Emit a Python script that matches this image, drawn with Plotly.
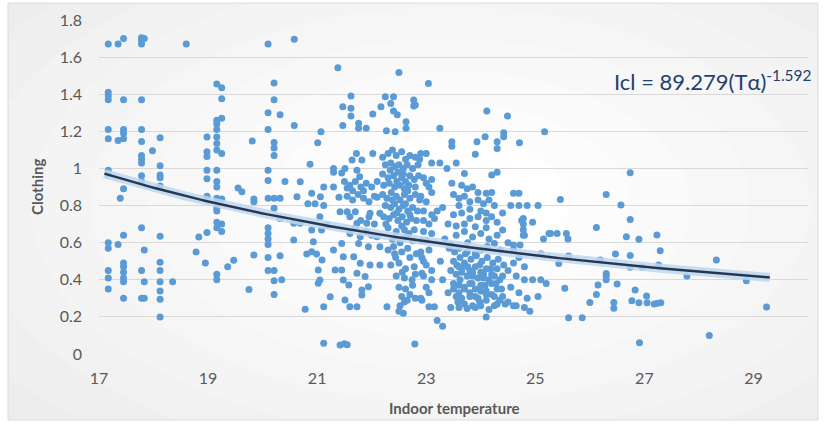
import plotly.graph_objects as go
import numpy as np

# ---------------- data ----------------
# (indoor temperature, clothing) pairs, grouped by temperature band
cold_points = [
    (17.17, 1.67), (17.17, 1.41), (17.17, 1.39), (17.17, 1.37), (17.17, 1.21), (17.17, 1.16),
    (17.17, 0.99), (17.17, 0.97), (17.17, 0.60), (17.17, 0.57), (17.17, 0.45), (17.17, 0.41),
    (17.17, 0.35), (17.35, 1.67), (17.35, 1.15), (17.35, 0.59), (17.39, 0.84),
    (17.45, 1.70), (17.45, 1.37), (17.45, 1.21), (17.45, 1.19), (17.45, 1.16), (17.45, 0.89),
    (17.45, 0.64), (17.45, 0.49), (17.45, 0.47), (17.45, 0.44), (17.45, 0.41), (17.45, 0.39),
    (17.45, 0.30), (17.78, 1.705), (17.78, 1.69), (17.78, 1.67), (17.78, 1.37), (17.78, 1.21),
    (17.78, 1.145), (17.78, 1.07), (17.78, 1.05), (17.78, 1.03), (17.78, 0.96), (17.78, 0.93),
    (17.78, 0.68), (17.78, 0.45), (17.78, 0.30), (17.83, 1.70), (17.83, 0.56), (17.83, 0.39),
    (17.83, 0.30), (17.98, 1.095), (18.12, 1.165), (18.12, 1.015), (18.12, 0.965), (18.12, 0.95),
    (18.12, 0.905), (18.12, 0.635), (18.12, 0.495), (18.12, 0.45), (18.12, 0.39), (18.12, 0.34),
    (18.12, 0.295), (18.12, 0.20), (18.35, 0.39), (18.6, 1.67),
]
cool_points = [
    (18.78, 0.55), (18.83, 0.63), (18.95, 0.49), (18.98, 1.17), (18.98, 1.09), (18.98, 1.065),
    (18.98, 0.99), (18.98, 0.945), (18.98, 0.85), (18.98, 0.655), (19.16, 1.455), (19.16, 1.26),
    (19.16, 1.24), (19.16, 1.21), (19.16, 1.17), (19.16, 1.135), (19.16, 1.10), (19.16, 0.99),
    (19.16, 0.93), (19.16, 0.90), (19.16, 0.84), (19.16, 0.785), (19.16, 0.77), (19.16, 0.71),
    (19.16, 0.68), (19.16, 0.43), (19.16, 0.40), (19.25, 1.435), (19.25, 1.375), (19.25, 1.27),
    (19.25, 1.08), (19.25, 0.835), (19.25, 0.70), (19.25, 0.66), (19.36, 0.47), (19.47, 0.505),
    (19.55, 0.895), (19.62, 0.875), (19.75, 0.347), (19.81, 1.148), (19.84, 0.835), (19.84, 0.82),
    (19.84, 0.533), (20.1, 1.67), (20.1, 1.30), (20.1, 1.21), (20.1, 0.99), (20.1, 0.935),
    (20.1, 0.84), (20.1, 0.68), (20.1, 0.65), (20.1, 0.62), (20.1, 0.59), (20.1, 0.52), (20.1, 0.45),
    (20.21, 1.46), (20.21, 1.37), (20.21, 1.14), (20.21, 1.11), (20.21, 1.07), (20.21, 0.84),
    (20.21, 0.785), (20.21, 0.45), (20.21, 0.395), (20.21, 0.32), (20.32, 1.29), (20.32, 0.84),
    (20.32, 0.73), (20.32, 0.53), (20.35, 0.40), (20.41, 0.93),
]
mild_points = [
    (20.58, 1.696), (20.58, 1.232), (20.87, 1.022), (21.01, 1.138), (21.07, 1.198), (21.38, 1.543),
    (21.47, 1.333), (21.47, 1.232), (21.62, 1.39), (21.62, 1.324), (21.62, 1.282), (21.76, 1.243),
    (21.76, 1.216), (21.9, 1.216), (22.02, 1.293), (22.02, 1.08), (22.17, 1.333), (21.72, 1.081),
    (21.64, 1.045), (21.82, 1.045), (21.3, 1.0), (21.51, 1.0), (21.73, 0.99), (21.3, 0.98),
    (21.45, 0.975), (21.78, 0.955), (20.69, 0.928), (21.12, 0.90), (21.3, 0.90), (21.55, 0.895),
    (21.65, 0.88), (21.85, 0.88), (20.9, 0.866), (20.63, 0.848), (21.06, 0.848), (21.4, 0.845),
    (22.1, 0.845), (20.83, 0.81), (20.96, 0.81), (21.12, 0.80), (21.5, 0.93), (21.6, 0.91),
    (21.7, 0.93), (21.8, 0.90), (21.9, 0.92), (22.0, 0.90), (22.1, 0.93), (21.55, 0.85),
    (21.65, 0.83), (21.75, 0.86), (21.85, 0.84), (21.95, 0.82), (22.05, 0.85), (21.6, 0.74),
    (21.8, 0.72), (21.95, 0.74), (22.05, 0.70), (21.7, 0.68), (21.9, 0.66), (22.0, 0.64),
    (21.42, 0.767), (21.55, 0.767), (21.7, 0.767), (21.97, 0.758), (22.15, 0.758), (21.05, 0.74),
    (20.57, 0.704), (20.69, 0.704), (21.73, 0.704), (21.91, 0.704), (21.18, 0.695), (20.9, 0.668),
    (21.08, 0.668), (21.6, 0.65), (21.79, 0.632), (22.1, 0.632), (20.57, 0.614), (20.93, 0.605),
    (21.45, 0.596), (21.76, 0.596), (21.94, 0.578), (22.15, 0.578), (21.3, 0.56), (20.9, 0.551),
    (20.81, 0.539), (20.99, 0.539), (21.48, 0.524), (21.67, 0.524), (21.09, 0.506), (21.79, 0.489),
    (21.97, 0.48), (22.15, 0.48), (21.02, 0.453), (21.33, 0.453), (21.45, 0.453), (21.73, 0.435),
    (21.88, 0.417), (21.05, 0.399), (21.48, 0.399), (21.02, 0.381), (21.58, 0.372), (21.94, 0.363),
    (21.82, 0.345), (21.24, 0.309), (21.51, 0.291), (21.82, 0.318), (21.12, 0.255), (21.6, 0.255),
    (21.73, 0.255), (20.78, 0.241), (21.12, 0.058), (21.42, 0.048), (21.5, 0.055), (21.55, 0.05),
]
core_points = [
    (22.25, 1.386), (22.4, 1.386), (22.35, 1.35), (22.4, 1.31), (22.47, 1.29), (22.5, 1.517),
    (22.27, 1.203), (22.43, 1.198), (22.63, 1.251), (22.63, 1.216), (22.77, 1.369), (22.77, 1.336),
    (22.8, 1.342), (22.2, 1.06), (22.3, 1.08), (22.38, 1.10), (22.45, 1.07), (22.55, 1.09),
    (22.62, 1.05), (22.7, 1.07), (22.8, 1.06), (22.25, 1.02), (22.35, 1.03), (22.42, 1.01),
    (22.5, 1.02), (22.58, 1.0), (22.65, 1.02), (22.75, 1.0), (22.85, 1.02), (22.2, 0.97),
    (22.3, 0.95), (22.4, 0.96), (22.48, 0.98), (22.55, 0.95), (22.62, 0.93), (22.7, 0.96),
    (22.78, 0.94), (22.86, 0.96), (22.22, 0.91), (22.32, 0.92), (22.42, 0.90), (22.52, 0.91),
    (22.6, 0.89), (22.68, 0.91), (22.8, 0.90), (22.2, 0.86), (22.28, 0.84), (22.36, 0.87),
    (22.45, 0.85), (22.52, 0.83), (22.6, 0.86), (22.7, 0.84), (22.8, 0.86), (22.88, 0.83),
    (22.25, 0.80), (22.35, 0.79), (22.42, 0.81), (22.5, 0.78), (22.58, 0.80), (22.66, 0.77),
    (22.75, 0.79), (22.84, 0.77), (22.22, 0.74), (22.32, 0.73), (22.4, 0.75), (22.48, 0.72),
    (22.56, 0.74), (22.64, 0.71), (22.72, 0.73), (22.82, 0.72), (22.3, 0.68), (22.45, 0.66),
    (22.55, 0.69), (22.68, 0.65), (22.78, 0.67), (22.38, 0.62), (22.52, 0.60), (22.62, 0.63),
    (22.75, 0.61), (22.3, 0.56), (22.42, 0.54), (22.55, 0.55), (22.7, 0.52), (22.82, 0.54),
    (22.35, 0.48), (22.5, 0.49), (22.62, 0.46), (22.78, 0.47), (22.45, 0.42), (22.6, 0.41),
    (22.8, 0.43), (22.5, 0.36), (22.62, 0.35), (22.75, 0.37), (22.55, 0.31), (22.6, 0.28),
    (22.52, 0.26), (22.5, 0.23), (22.65, 0.29), (22.8, 0.30), (22.58, 0.22), (22.28, 0.255),
    (22.79, 0.054),
    (22.34, 0.99), (22.46, 0.93), (22.58, 0.97), (22.66, 0.88), (22.38, 0.83), (22.62, 0.81),
    (22.46, 0.76), (22.7, 0.75), (22.26, 0.70), (22.6, 0.67), (22.4, 0.58), (22.66, 0.57),
    (22.74, 0.40), (22.56, 0.44), (22.7, 0.32), (22.44, 0.52),
]
warm_points = [
    (23.04, 1.458), (23.25, 1.216), (23.47, 1.144), (23.47, 1.12), (23.93, 1.144), (23.9, 1.076),
    (24.08, 1.171), (24.11, 1.309), (24.3, 1.144), (24.3, 1.108), (24.42, 1.193), (24.42, 1.171),
    (24.49, 1.282), (24.71, 1.138), (25.17, 1.198), (22.9, 1.08), (23.0, 1.08), (22.88, 1.05),
    (23.1, 1.03), (23.25, 1.03), (23.55, 1.03), (23.38, 1.0), (23.7, 0.973), (24.2, 0.964),
    (24.3, 0.98), (22.95, 0.95), (23.0, 0.92), (23.05, 0.90), (23.1, 0.94), (23.47, 0.92),
    (23.65, 0.91), (23.75, 0.89), (23.85, 0.90), (23.95, 0.87), (24.1, 0.866), (24.2, 0.87),
    (24.6, 0.866), (24.7, 0.866), (24.55, 0.80), (24.7, 0.80), (24.85, 0.80), (25.05, 0.80),
    (23.3, 0.79), (23.6, 0.80), (22.95, 0.77), (23.1, 0.75), (23.2, 0.77), (23.8, 0.78),
    (24.0, 0.77), (24.1, 0.76), (24.4, 0.76), (24.75, 0.72), (24.95, 0.71), (23.4, 0.70),
    (23.55, 0.69), (23.7, 0.70), (23.9, 0.686), (24.1, 0.68), (24.4, 0.668), (22.95, 0.66),
    (23.1, 0.65), (25.25, 0.65), (24.8, 0.64), (25.15, 0.62), (22.92, 0.61), (23.0, 0.61),
    (24.25, 0.596), (24.6, 0.587), (24.72, 0.587), (23.45, 0.59), (23.6, 0.57), (23.75, 0.55),
    (23.9, 0.54), (24.0, 0.56), (23.05, 0.56), (25.1, 0.54), (22.92, 0.52), (22.95, 0.50),
    (23.5, 0.50), (23.6, 0.47), (23.7, 0.49), (23.8, 0.45), (23.9, 0.47), (24.0, 0.44),
    (24.1, 0.46), (24.2, 0.43), (24.3, 0.46), (24.4, 0.42), (23.65, 0.44), (23.85, 0.42),
    (24.05, 0.41), (24.6, 0.49), (24.8, 0.47), (23.1, 0.45), (22.92, 0.435), (23.3, 0.40),
    (23.5, 0.38), (23.6, 0.37), (23.8, 0.38), (23.9, 0.35), (24.0, 0.37), (24.2, 0.38),
    (24.3, 0.35), (23.7, 0.35), (24.1, 0.34), (24.95, 0.40), (25.1, 0.40), (25.2, 0.38),
    (23.0, 0.36), (23.4, 0.33), (23.55, 0.31), (23.65, 0.30), (23.8, 0.31), (23.95, 0.30),
    (24.1, 0.32), (24.25, 0.31), (24.35, 0.29), (25.05, 0.31), (22.92, 0.29), (23.05, 0.255),
    (23.15, 0.255), (23.45, 0.25), (23.6, 0.25), (23.75, 0.245), (23.9, 0.25), (24.45, 0.27),
    (24.6, 0.26), (24.9, 0.23), (24.1, 0.20), (23.2, 0.18), (23.3, 0.15),
    (23.42, 0.57), (23.52, 0.55), (23.62, 0.52), (23.72, 0.54), (23.82, 0.51), (23.92, 0.53),
    (24.02, 0.50), (24.12, 0.52), (24.22, 0.49), (24.32, 0.51), (24.42, 0.48), (23.45, 0.45),
    (23.55, 0.43), (23.65, 0.46), (23.75, 0.42), (23.85, 0.44), (23.95, 0.41), (24.05, 0.43),
    (24.15, 0.40), (24.25, 0.42), (24.35, 0.40), (23.5, 0.35), (23.6, 0.33), (23.7, 0.36),
    (23.8, 0.33), (23.9, 0.31), (24.0, 0.34), (24.1, 0.29), (24.2, 0.32), (24.3, 0.27),
    (24.4, 0.31), (23.7, 0.27), (23.85, 0.26), (24.0, 0.26), (24.15, 0.24), (24.25, 0.26),
    (22.9, 0.85), (23.0, 0.82), (23.1, 0.87), (22.95, 0.72), (23.05, 0.70), (23.15, 0.73),
    (22.9, 0.55), (23.0, 0.48), (23.1, 0.40), (22.95, 0.42), (23.05, 0.33), (22.9, 0.30),
    (23.5, 0.86), (23.6, 0.84), (23.7, 0.85), (23.8, 0.82), (23.95, 0.83), (24.05, 0.81),
    (24.15, 0.83), (24.25, 0.80), (23.5, 0.75), (23.65, 0.76), (23.8, 0.73), (23.95, 0.74),
    (24.1, 0.72), (24.2, 0.74), (24.3, 0.71), (23.55, 0.64), (23.7, 0.66), (23.85, 0.63),
    (24.0, 0.65), (24.15, 0.62), (24.3, 0.64), (24.5, 0.60), (24.6, 0.56), (24.7, 0.52),
    (24.5, 0.45), (24.65, 0.42), (24.8, 0.40), (24.55, 0.36), (24.7, 0.33), (24.85, 0.30),
    (24.5, 0.28), (24.65, 0.26), (24.8, 0.25), (24.78, 0.73), (24.78, 0.70), (24.78, 0.67),
    (24.78, 0.64),
    (23.56, 0.48), (23.76, 0.47), (23.98, 0.48), (24.18, 0.46), (23.62, 0.40), (23.84, 0.38),
    (24.08, 0.37), (24.28, 0.38), (23.58, 0.28), (23.98, 0.28), (24.38, 0.35), (23.76, 0.60),
    (24.12, 0.58), (24.36, 0.56), (23.34, 0.62), (23.26, 0.50),
]
hot_points = [
    (25.28, 0.65), (25.4, 0.65), (25.57, 0.65), (25.6, 0.62), (25.46, 0.833), (25.43, 0.488),
    (25.61, 0.528), (25.54, 0.354), (25.61, 0.196), (25.86, 0.196), (26.0, 0.278), (26.12, 0.321),
    (26.15, 0.372), (26.12, 0.682), (26.19, 0.506), (26.3, 0.86), (26.3, 0.434), (26.3, 0.40),
    (26.3, 0.42), (26.44, 0.278), (26.44, 0.246), (26.47, 0.539), (26.5, 0.377), (26.57, 0.803),
    (26.67, 0.632), (26.74, 0.977), (26.74, 0.725), (26.74, 0.531), (26.74, 0.467), (26.77, 0.287),
    (26.83, 0.345), (26.9, 0.618), (26.9, 0.276), (26.91, 0.061), (26.96, 0.467), (27.04, 0.312),
    (27.05, 0.276), (27.18, 0.269), (27.23, 0.641), (27.26, 0.479), (27.29, 0.557), (27.3, 0.276),
    (27.24, 0.273), (27.78, 0.42), (28.19, 0.10), (28.32, 0.506), (28.87, 0.395), (29.24, 0.253),
]

x_tick_values = [17, 19, 21, 23, 25, 27, 29]
y_tick_values = [0, 0.2, 0.4, 0.6, 0.8, 1.0, 1.2, 1.4, 1.6, 1.8]
y_tick_labels = ["0", "0.2", "0.4", "0.6", "0.8", "1", "1.2", "1.4", "1.6", "1.8"]
x_title = "Indoor temperature"
y_title = "Clothing"
equation_text = "Icl = 89.279(T\u03b1)<sup>-1.592</sup>"

# power trendline shown on the chart: Icl = 89.279 * T^-1.592
trend_coef = 89.279
trend_exp = -1.592
trend_start = 17.1
trend_end = 29.3

# ---------------- figure ----------------
all_points = cold_points + cool_points + mild_points + core_points + warm_points + hot_points
temps = [p[0] for p in all_points]
clothing = [p[1] for p in all_points]

trend_x = np.linspace(trend_start, trend_end, 200)
trend_y = trend_coef * trend_x ** trend_exp

W, H = 825, 426
L, R, T, B = 99, 808, 20, 354


def pxx(px):
    return (px - L) / (R - L)


def pyy(py):
    return (B - py) / (B - T)


fig = go.Figure()
fig.add_trace(go.Scatter(
    x=temps, y=clothing, mode="markers",
    marker=dict(size=7, color="#5B9BD5", line=dict(width=0)),
    showlegend=False, hoverinfo="x+y",
))
fig.add_trace(go.Scatter(
    x=trend_x, y=trend_y, mode="lines",
    line=dict(color="rgba(189,215,238,0.85)", width=9),
    showlegend=False, hoverinfo="skip",
))
fig.add_trace(go.Scatter(
    x=trend_x, y=trend_y, mode="lines",
    line=dict(color="#263751", width=2.5),
    showlegend=False, hoverinfo="skip",
))

# background: light-grey frame with a soft radial highlight
shapes = [dict(type="rect", xref="paper", yref="paper", layer="below",
               x0=pxx(8), x1=pxx(818), y0=pyy(420), y1=pyy(3),
               fillcolor="#eaeaea", line=dict(width=0))]
cx, cy = 450, 205
steps = [(600, 330, "#ededed"), (540, 295, "#efefef"), (480, 262, "#f2f2f2"),
         (420, 230, "#f4f4f4"), (360, 198, "#f6f6f6"), (300, 166, "#f8f8f8"),
         (240, 134, "#fafafa"), (180, 102, "#fcfcfc"), (120, 70, "#fefefe")]
for rx, ry, col in steps:
    shapes.append(dict(type="circle", xref="paper", yref="paper", layer="below",
                       x0=pxx(cx - rx), x1=pxx(cx + rx), y0=pyy(cy + ry), y1=pyy(cy - ry),
                       fillcolor=col, line=dict(width=0)))
for (a, b, c, d) in [(0, 8, 0, H), (818, W, 0, H), (0, W, 0, 3), (0, W, 420, H)]:
    shapes.append(dict(type="rect", xref="paper", yref="paper", layer="below",
                       x0=pxx(a), x1=pxx(b), y0=pyy(d), y1=pyy(c),
                       fillcolor="#ffffff", line=dict(width=0)))
shapes.append(dict(type="rect", xref="paper", yref="paper", layer="below",
                   x0=pxx(8), x1=pxx(818), y0=pyy(420), y1=pyy(3),
                   fillcolor="rgba(0,0,0,0)", line=dict(color="#dcdcdc", width=1)))

font_family = "Lato, 'Open Sans', sans-serif"

fig.update_layout(
    width=W, height=H, autosize=False,
    margin=dict(l=L, r=W - R, t=T, b=H - B, autoexpand=False),
    paper_bgcolor="#ffffff", plot_bgcolor="rgba(0,0,0,0)",
    font=dict(family=font_family, color="#595959"),
    shapes=shapes,
    xaxis=dict(
        range=[17, 30], tickvals=x_tick_values, showgrid=False, zeroline=False,
        showline=False, ticks="", tickfont=dict(size=16, color="#595959"),
        ticklabelstandoff=13, automargin=False,
    ),
    yaxis=dict(
        range=[0, 1.8], tickvals=y_tick_values, ticktext=y_tick_labels,
        showgrid=True, gridcolor="#d9d9d9", gridwidth=1, zeroline=False,
        showline=False, ticks="", tickfont=dict(size=16, color="#595959"),
        ticklabelstandoff=16, automargin=False,
    ),
    annotations=[
        dict(xref="paper", yref="paper", x=pxx(612), y=pyy(80), xanchor="left",
             yanchor="middle", text=equation_text, showarrow=False,
             font=dict(size=22, color="#243F6B", family=font_family)),
        dict(xref="paper", yref="paper", x=pxx(454), y=pyy(408), xanchor="center",
             yanchor="middle", text="<b>" + x_title + "</b>", showarrow=False,
             font=dict(size=15, color="#595959", family=font_family)),
        dict(xref="paper", yref="paper", x=pxx(37), y=pyy(187), xanchor="center",
             yanchor="middle", text="<b>" + y_title + "</b>", showarrow=False, textangle=-90,
             font=dict(size=15, color="#595959", family=font_family)),
    ],
)

fig.write_html("out.html", config={"displayModeBar": False},
               post_script="document.body.style.margin='0px';document.body.style.overflow='hidden';")
